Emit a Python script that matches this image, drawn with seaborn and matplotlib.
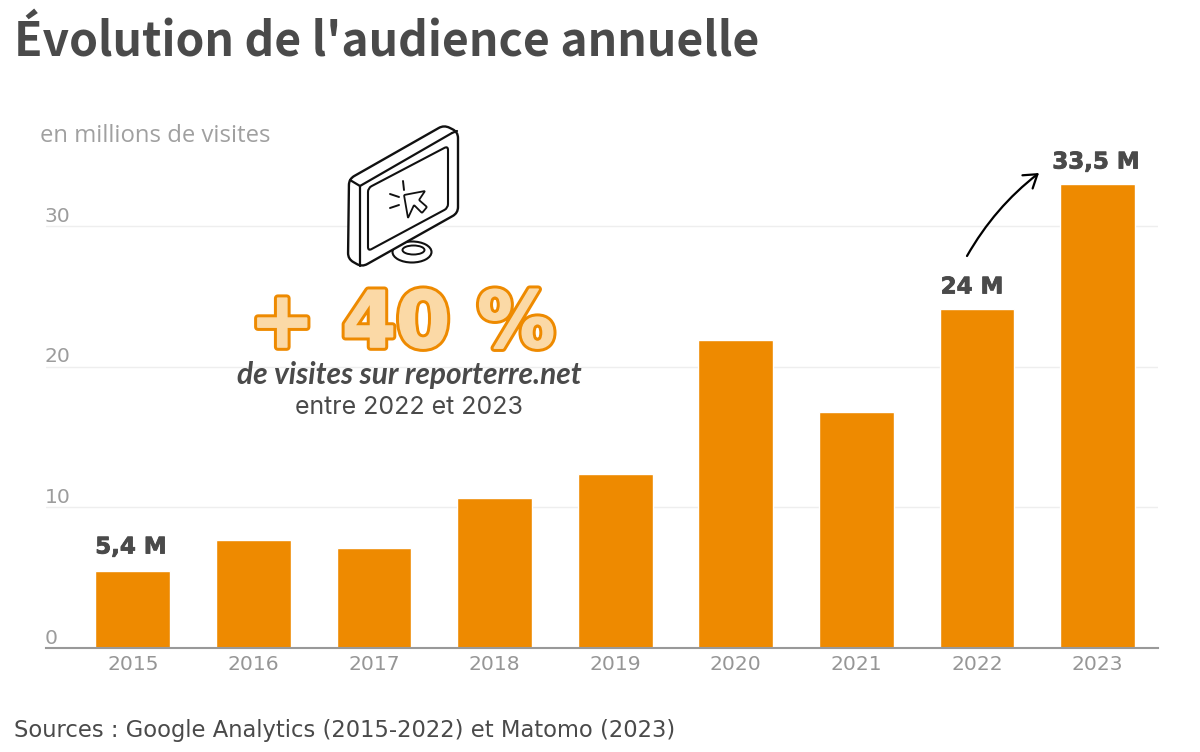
import matplotlib
matplotlib.use("Agg")
import matplotlib.pyplot as plt
from matplotlib.patches import FancyArrowPatch, Ellipse, PathPatch
from matplotlib.path import Path
import matplotlib.patheffects as pe
import numpy as np
import seaborn as sns
import pandas as pd

years = ["2015","2016","2017","2018","2019","2020","2021","2022","2023"]
visits = [5.5,7.7,7.1,10.7,12.4,21.9,16.8,24.1,33.05]
yticks = [0,10,20,30]

sns.set_theme(style="white")
plt.rcParams['font.family'] = ['DejaVu Sans']
fig = plt.figure(figsize=(12,7.52),dpi=100)
ax = fig.add_axes([46/1200,1-648/752,(1158-46)/1200,(648-128)/752])
df = pd.DataFrame({"year":years,"visits":visits})
sns.barplot(data=df,x="year",y="visits",color="#EE8A00",saturation=1,width=0.62,ax=ax)
ax.set_xlim(-0.72,8.5)
ax.set_ylim(0,37)
ax.set_xlabel("");ax.set_ylabel("")
ax.set_yticks(yticks)
ax.set_yticklabels([])
ax.grid(axis='y',color='#eeeeee',lw=1)
ax.set_axisbelow(True)
for s in ['top','left','right']: ax.spines[s].set_visible(False)
ax.spines['bottom'].set_color('#999999'); ax.spines['bottom'].set_linewidth(1.5)
ax.tick_params(axis='x',length=0,labelsize=14.6,labelcolor='#969696',pad=5)
ax.tick_params(axis='y',length=0)
for v in yticks:
    ax.annotate(str(v),(0,v),xycoords=('axes fraction','data'),xytext=(-1,7.2),textcoords='offset points',fontsize=14.6,color='#9c9c9c',va='center',ha='left')
t=lambda x,y,s,**k: fig.text(x/1200,1-y/752,s,**k)
t(14,42,"Évolution de l'audience annuelle",fontsize=33.3,fontweight='bold',color='#4a4a4a',va='center',family='Noto Sans CJK JP')
t(40,136,"en millions de visites",fontsize=17.2,color='#a0a0a0',va='center',family='Open Sans')
t(14,730,"Sources : Google Analytics (2015-2022) et Matomo (2023)",fontsize=16.3,color='#4a4a4a',va='center',family='DejaVu Sans')
heavy=[pe.withStroke(linewidth=0.6,foreground='#4a4a4a')]
for x,y,s in [(131,547,"5,4 M"),(972,287,"24 M"),(1096,162,"33,5 M")]:
    t(x,y,s,fontsize=16.5,fontweight='bold',color='#4a4a4a',ha='center',va='center',family='DejaVu Sans',path_effects=heavy)
t(402.5,325,"+ 40 %",fontsize=56,fontweight='bold',color='#FBD9A6',ha='center',va='center',family='DejaVu Sans',
  path_effects=[pe.withStroke(linewidth=5.5,foreground='#EE8A00'),pe.withStroke(linewidth=1.2,foreground='#FBD9A6')])
t(409,375,"de visites sur reporterre.net",fontsize=21.5,fontweight='bold',style='italic',color='#4a4a4a',ha='center',va='center',family='Lato')
t(409,408,"entre 2022 et 2023",fontsize=18,color='#4a4a4a',ha='center',va='center',family='Inter')
fig.add_artist(FancyArrowPatch((967/1200,1-256/752),(1039/1200,1-173/752),transform=fig.transFigure,connectionstyle="arc3,rad=-0.1",arrowstyle="->,head_length=9,head_width=6",color='black',lw=1.6,shrinkA=0,shrinkB=0))

def rounded(pts,r):
    pts=[np.array(p,float) for p in pts]
    n=len(pts); verts=[];codes=[]
    for i in range(n):
        p=pts[i];a=pts[i-1];b=pts[(i+1)%n]
        ra=min(r,np.linalg.norm(a-p)/2);rb=min(r,np.linalg.norm(b-p)/2)
        s=p+(a-p)/np.linalg.norm(a-p)*ra; e=p+(b-p)/np.linalg.norm(b-p)*rb
        verts+= [s,p,e]; codes+=[Path.MOVETO if i==0 else Path.LINETO,Path.CURVE3,Path.CURVE3]
    verts.append(verts[0]);codes.append(Path.CLOSEPOLY)
    return verts,codes
def shape(pts,r=4,lw=1.6,fc='white'):
    v,c=rounded(pts,r)
    v=[(x/1200,1-y/752) for x,y in v]
    fig.add_artist(PathPatch(Path(v,c),transform=fig.transFigure,fc=fc,ec='#111111',lw=lw,joinstyle='round'))
def line(p,q,lw=1.4):
    fig.add_artist(plt.Line2D([p[0]/1200,q[0]/1200],[1-p[1]/752,1-q[1]/752],transform=fig.transFigure,color='#111111',lw=lw,solid_capstyle='round'))
fig.add_artist(Ellipse((412/1200,1-252/752),39/1200,21/752,transform=fig.transFigure,fc='white',ec='#111111',lw=1.5))
fig.add_artist(Ellipse((413.5/1200,1-250/752),22/1200,9/752,transform=fig.transFigure,fc='white',ec='#111111',lw=1.4))
shape([(349,179),(444,125),(458,132),(458,213),(362,267),(348,259)],r=6,lw=1.7)
line((350,180),(360,186),1.6); line((360,186),(360,266),1.6); line((360,186),(452,133),1.6); line((452,133),(457,131),1.6)
shape([(368,188),(448,146),(448,208),(368,251)],r=4,lw=1.5)
shape([(404,195),(425,191),(419,200),(427,207),(422,213),(414,205),(408,218)],r=1,lw=1.3)
line((403,181),(404,190));line((390,194),(399,197));line((390,208),(399,205))
fig.savefig("out.png",dpi=100)
